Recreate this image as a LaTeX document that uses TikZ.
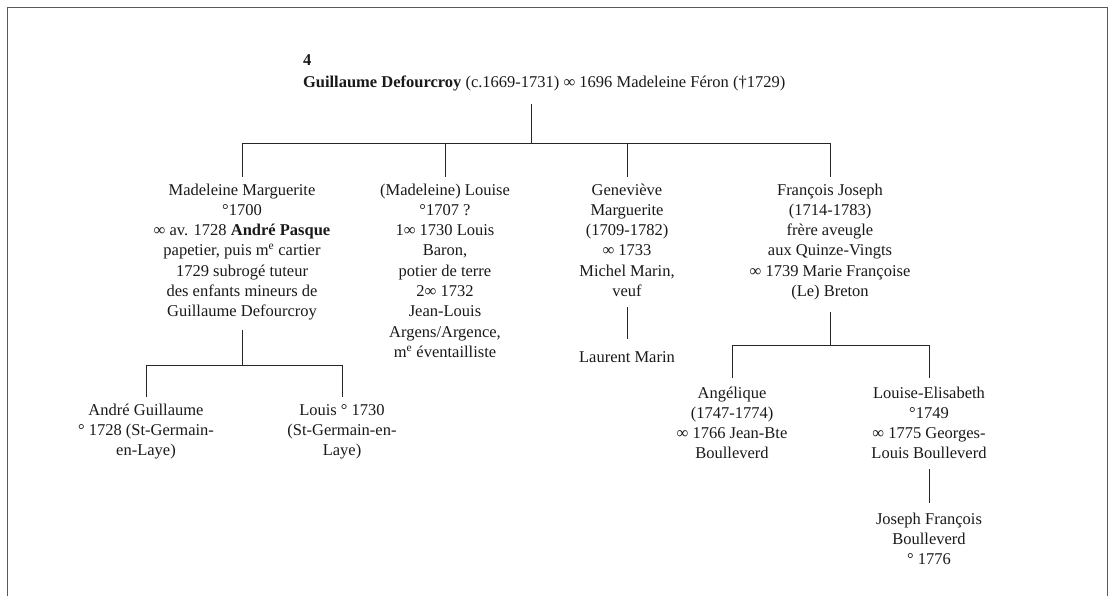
\documentclass[tikz,border=0pt]{standalone}
\usepackage{fontspec}
\setmainfont{Liberation Serif}
\newcommand{\firstl}{\rule{0pt}{12pt}}
\newcommand{\lastl}{\rule[-5pt]{0pt}{5pt}}
\tikzset{
  person/.style={align=center, inner sep=0pt, outer sep=0pt, anchor=north,
    font=\fontsize{16.5}{20.3}\selectfont, text=black!90},
  link/.style={line width=0.8pt, draw=black!85},
  frameline/.style={line width=1.4pt, draw=black!65},
}
\begin{document}
\begin{tikzpicture}[x=1pt,y=-1pt]
\useasboundingbox (0,0) rectangle (1111,596);
\draw[frameline] (7.5,596) -- (7.5,7.5);
\draw[frameline] (7.5,7.5) -- (1107.5,7.5);
\draw[frameline] (1107.5,7.5) -- (1107.5,596);

% title
\node[person, anchor=north west, align=left] (title) at (303,53.5)
  {\firstl\textbf{4}\\[1.7pt]
   \textbf{Guillaume Defourcroy} (c.1669-1731) ∞ 1696 Madeleine Féron (†1729)\lastl};

% children
\node[person] (mm) at (242,183) {\firstl Madeleine Marguerite\\ °1700\\ ∞ av. 1728 \textbf{André Pasque}\\ papetier, puis m\textsuperscript{e} cartier\\ 1729 subrogé tuteur\\ des enfants mineurs de\\ Guillaume Defourcroy\lastl};
\node[person] (ml) at (445,183) {\firstl (Madeleine) Louise\\ °1707 ?\\ 1∞ 1730 Louis\\ Baron,\\ potier de terre\\ 2∞ 1732\\ Jean-Louis\\ Argens/Argence,\\ m\textsuperscript{e} éventailliste\lastl};
\node[person] (gm) at (627,183) {\firstl Geneviève\\ Marguerite\\ (1709-1782)\\ ∞ 1733\\ Michel Marin,\\ veuf\lastl};
\node[person] (fj) at (830,183) {\firstl François Joseph\\ (1714-1783)\\ frère aveugle\\ aux Quinze-Vingts\\ ∞ 1739 Marie Françoise\\ (Le) Breton\lastl};

% grandchildren
\node[person] (ag) at (146,403) {\firstl André Guillaume\\ ° 1728 (St-Germain-\\ en-Laye)\lastl};
\node[person] (lo) at (342,403) {\firstl Louis ° 1730\\ (St-Germain-en-\\ Laye)\lastl};
\node[person] (lm) at (627,350) {\firstl Laurent Marin\lastl};
\node[person] (an) at (732,386) {\firstl Angélique\\ (1747-1774)\\ ∞ 1766 Jean-Bte\\ Boulleverd\lastl};
\node[person] (le) at (929,386) {\firstl Louise-Elisabeth\\ °1749\\ ∞ 1775 Georges-\\ Louis Boulleverd\lastl};
\node[person] (jf) at (929,512) {\firstl Joseph François\\ Boulleverd\\ ° 1776\lastl};

% junctions
\coordinate (bar1) at (531,143);
\coordinate (sub1) at (242,365);
\coordinate (sub2) at (830,345);

% connectors
\draw[link] ([yshift=-11.5pt]title.south -| bar1) -- (bar1);
\draw[link] ([yshift=6pt]mm.north) -- (mm.north |- bar1) -- (fj.north |- bar1) -- ([yshift=6pt]fj.north);
\draw[link] (ml.north |- bar1) -- ([yshift=6pt]ml.north);
\draw[link] (gm.north |- bar1) -- ([yshift=6pt]gm.north);

\draw[link] ([yshift=-8pt]mm.south) -- (sub1);
\draw[link] ([yshift=6pt]ag.north) -- (ag.north |- sub1) -- (lo.north |- sub1) -- ([yshift=6pt]lo.north);

\draw[link] ([yshift=-5.5pt]gm.south) -- ([yshift=11pt]lm.north);

\draw[link] ([yshift=-10.5pt]fj.south) -- (sub2);
\draw[link] ([yshift=8pt]an.north) -- (an.north |- sub2) -- (le.north |- sub2) -- ([yshift=8pt]le.north);

\draw[link] ([yshift=-5pt]le.south) -- ([yshift=9pt]jf.north);
\end{tikzpicture}
\end{document}
